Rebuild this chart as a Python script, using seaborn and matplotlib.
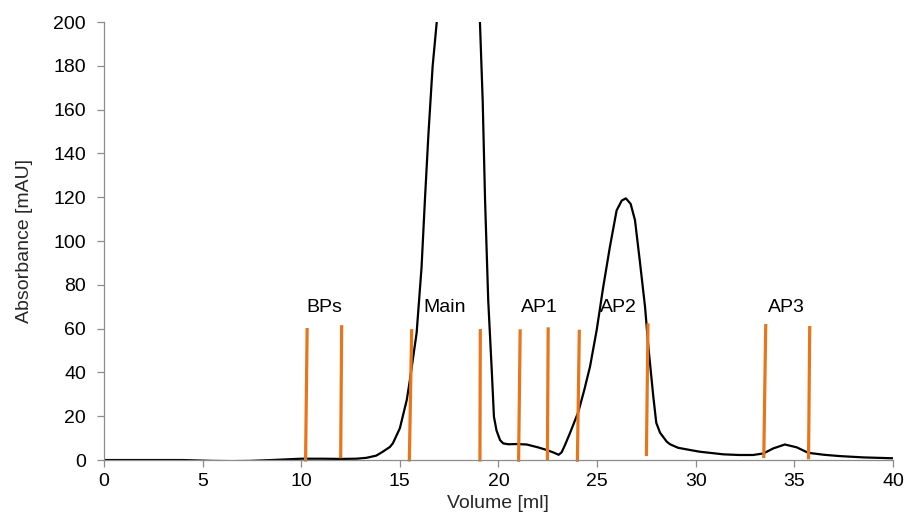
import matplotlib
matplotlib.use("Agg")
import matplotlib.pyplot as plt
import seaborn as sns
import pandas as pd
import numpy as np

# Chromatogram trace (Volume [ml], Absorbance [mAU])
volume = [0, 2, 4, 5.5, 6.5, 7.4, 8.5, 10, 11, 12, 12.8, 13.3, 13.8, 14.1, 14.5, 14.65,
          15.0, 15.35, 15.5, 15.85, 16.1, 16.27, 16.45, 16.66, 16.87, 17.2, 17.6, 18.0,
          18.4, 18.8, 19.06, 19.2, 19.32, 19.48, 19.65, 19.77, 19.9, 20.08, 20.24, 20.5,
          20.92, 21.43, 22.0, 22.44, 22.8, 23.05, 23.2, 23.37, 23.62, 24.05, 24.35, 24.64,
          24.98, 25.31, 25.65, 25.99, 26.25, 26.46, 26.7, 26.92, 27.18, 27.43, 27.6, 27.85,
          28.0, 28.19, 28.53, 28.7, 29.1, 29.7, 30.2, 31.4, 32.2, 32.9, 33.43, 33.93, 34.52,
          35.12, 35.7, 36.5, 37.3, 38.5, 40]
absorbance = [0, 0, 0, -0.4, -0.5, -0.4, 0, 0.6, 0.6, 0.5, 0.6, 1.0, 2.0, 3.6, 6.0, 7.7,
              14.5, 27.4, 36, 58, 88, 118.7, 149, 179.6, 200, 240, 280, 300,
              295, 260, 200, 164, 118.7, 73, 42.6, 19.8, 13.5, 9.1, 7.6, 7.2,
              7.3, 7.1, 5.8, 4.6, 3.4, 2.4, 3.5, 6.8, 12.2, 22, 32, 42.6,
              59.4, 79, 97.4, 114, 118.5, 119.5, 117, 109.6, 89.8, 70, 51.7, 28.9,
              17, 12.5, 8.4, 7.2, 5.6, 4.6, 3.8, 2.6, 2.3, 2.3, 3.0, 5.3, 7.1,
              5.8, 3.3, 2.4, 1.8, 1.2, 0.8]

# Fraction cut lines (bottom x, top x, bottom y, top y)
cut_x_bottom = [10.22, 12.0, 15.48, 19.06, 21.02, 22.48, 24.0, 27.5, 33.45, 35.72]
cut_x_top = [10.3, 12.05, 15.6, 19.08, 21.1, 22.52, 24.1, 27.58, 33.55, 35.78]
cut_y_bottom = [-0.7, 0.8, -0.7, -0.7, -0.8, -0.4, -0.8, 1.8, 0.9, 0.3]
cut_y_top = [60.3, 61.6, 59.8, 59.8, 59.7, 60.6, 59.5, 62.4, 62.1, 61.2]

# Fraction labels
frac_labels = ["BPs", "Main", "AP1", "AP2", "AP3"]
frac_x = [11.15, 17.29, 22.08, 26.1, 34.6]
frac_y = [69.5, 69.5, 69.5, 69.5, 69.5]

x_ticks = [0, 5, 10, 15, 20, 25, 30, 35, 40]
y_ticks = [0, 20, 40, 60, 80, 100, 120, 140, 160, 180, 200]

sns.set_theme(style="white")
plt.rcParams['font.family'] = ['Liberation Sans', 'DejaVu Sans']

FS = 14

fig = plt.figure(figsize=(9.05, 5.14), dpi=100)
ax = fig.add_axes([0.1149, 0.105, 0.8718, 0.852])

df = pd.DataFrame({"Volume": volume, "Absorbance": absorbance})
sns.lineplot(data=df, x="Volume", y="Absorbance", ax=ax, color="black",
             linewidth=1.6, sort=False)

orange = "#E8751A"
for xb, xt, yb, yt in zip(cut_x_bottom, cut_x_top, cut_y_bottom, cut_y_top):
    ax.plot([xb, xt], [yb, yt], color=orange, linewidth=2.3, solid_capstyle="butt",
            clip_on=False)

for lab, lx, ly in zip(frac_labels, frac_x, frac_y):
    ax.text(lx, ly, lab, ha="center", va="center", fontsize=FS, color="black")

ax.set_xlim(0, 40)
ax.set_ylim(0, 200)
ax.set_xticks(x_ticks)
ax.set_yticks(y_ticks)
ax.tick_params(axis="both", labelsize=FS, colors="#8c8c8c", length=5,
               width=0.9, direction="out", labelcolor="black")
ax.tick_params(axis="y", pad=8)
ax.tick_params(axis="x", pad=4)
ax.tick_params(axis="both", bottom=True, left=True)
for s in ["top", "right"]:
    ax.spines[s].set_visible(False)
for s in ["left", "bottom"]:
    ax.spines[s].set_color("#8c8c8c")
    ax.spines[s].set_linewidth(0.9)

ax.set_xlabel("Volume [ml]", fontsize=FS, va="center")
ax.set_ylabel("Absorbance [mAU]", fontsize=FS, va="center")
ax.xaxis.set_label_coords(0.4987, (460 - 503) / 438)
ax.yaxis.set_label_coords((25 - 104) / 789, 0.5)

fig.savefig("out.png", dpi=100)
